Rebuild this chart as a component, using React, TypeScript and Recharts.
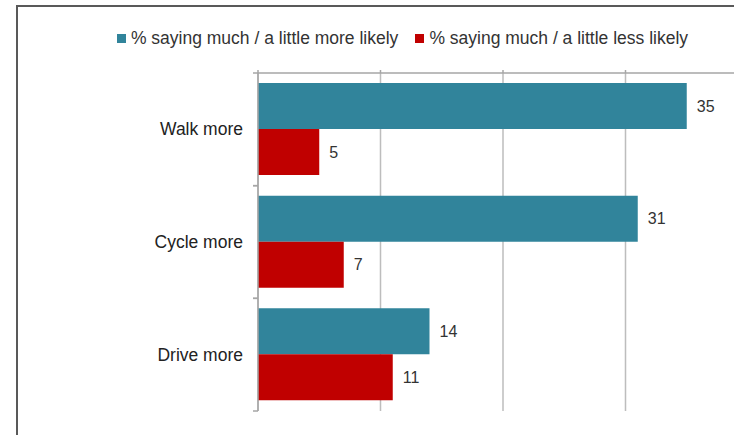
import { BarChart, Bar, XAxis, YAxis, CartesianGrid, Legend, LabelList } from "recharts";

const categories = ["Walk more", "Cycle more", "Drive more"];
const moreLikely = [35, 31, 14];
const lessLikely = [5, 7, 11];
const seriesNames = ["% saying much / a little more likely", "% saying much / a little less likely"];
const xTicks = [0, 10, 20, 30, 40];

const FONT = '"Liberation Sans", Arial, sans-serif';
const TEAL = "#31849B";
const RED = "#C00000";
const AXIS = "#a6a6a6";
const FRAME = "#595959";

const data = categories.map((name, i) => ({ name, more: moreLikely[i], less: lessLikely[i] }));

// category label plus the small tick marks at the band edges
const CategoryTick = (props: any) => {
    const { x, y, payload } = props;
    const half = payload.offset || 0;
    const lineX = x + 15;
    return (
        <g>
            <line x1={lineX - 5} x2={lineX} y1={y - half} y2={y - half} stroke={AXIS} strokeWidth={1.5} />
            <line x1={lineX - 5} x2={lineX} y1={y + half} y2={y + half} stroke={AXIS} strokeWidth={1.5} />
            <text x={x} y={y} textAnchor="end" dominantBaseline="central" fill="#222" fontSize={17.5} fontFamily={FONT}>
                {payload.value}
            </text>
        </g>
    );
};

const renderLegend = (props: any) => {
    // layout="vertical" hands the payload over reversed, so put it back in series order
    const items = [...(props.payload || [])].sort(
        (a: any, b: any) => seriesNames.indexOf(a.value) - seriesNames.indexOf(b.value)
    );
    return (
        <div style={{ display: "flex", justifyContent: "center", fontFamily: FONT, fontSize: 17.5, color: "#333" }}>
            {items.map((entry: any, i: number) => (
                <span key={entry.value} style={{ display: "flex", alignItems: "center", marginLeft: i ? 17 : 0 }}>
                    <span style={{ display: "inline-block", width: 9, height: 9, background: entry.color, marginRight: 5 }} />
                    {entry.value}
                </span>
            ))}
        </div>
    );
};

const App = () => {
    return (
        <div style={{ position: "fixed", left: 0, top: 0, width: 734, height: 435, overflow: "hidden", background: "#fff" }}>
            <BarChart
                width={760}
                height={435}
                data={data}
                layout="vertical"
                barGap={0}
                margin={{ top: 53, right: 12, bottom: 24, left: 18 }}
            >
                <CartesianGrid horizontal={false} stroke="#bdbdbd" strokeWidth={1.5} />
                <XAxis
                    type="number"
                    orientation="top"
                    domain={[0, 40]}
                    ticks={xTicks}
                    height={20}
                    axisLine={{ stroke: AXIS, strokeWidth: 1.5 }}
                    tickLine={{ stroke: AXIS, strokeWidth: 1.5 }}
                    tickSize={3}
                    tickFormatter={() => ""}
                />
                <YAxis
                    type="category"
                    dataKey="name"
                    width={240}
                    axisLine={{ stroke: AXIS, strokeWidth: 1.5 }}
                    tickLine={false}
                    tickSize={0}
                    tickMargin={15}
                    tick={<CategoryTick />}
                />
                <Legend
                    verticalAlign="middle"
                    align="center"
                    layout="horizontal"
                    wrapperStyle={{ top: 28, left: 0, width: 805 }}
                    content={renderLegend}
                />
                <Bar dataKey="more" name={seriesNames[0]} fill={TEAL} barSize={46} isAnimationActive={false}>
                    <LabelList dataKey="more" position="right" offset={10} fill="#333" fontSize={16} fontFamily={FONT} />
                </Bar>
                <Bar dataKey="less" name={seriesNames[1]} fill={RED} barSize={46} isAnimationActive={false}>
                    <LabelList dataKey="less" position="right" offset={10} fill="#333" fontSize={16} fontFamily={FONT} />
                </Bar>
            </BarChart>
            {/* outer frame of the original figure, cropped on the right and bottom */}
            <div style={{ position: "absolute", left: 16, top: 5, width: 730, height: 2, background: FRAME, zIndex: 5 }} />
            <div style={{ position: "absolute", left: 16, top: 5, width: 2, height: 440, background: FRAME, zIndex: 5 }} />
        </div>
    );
};

export default App;
